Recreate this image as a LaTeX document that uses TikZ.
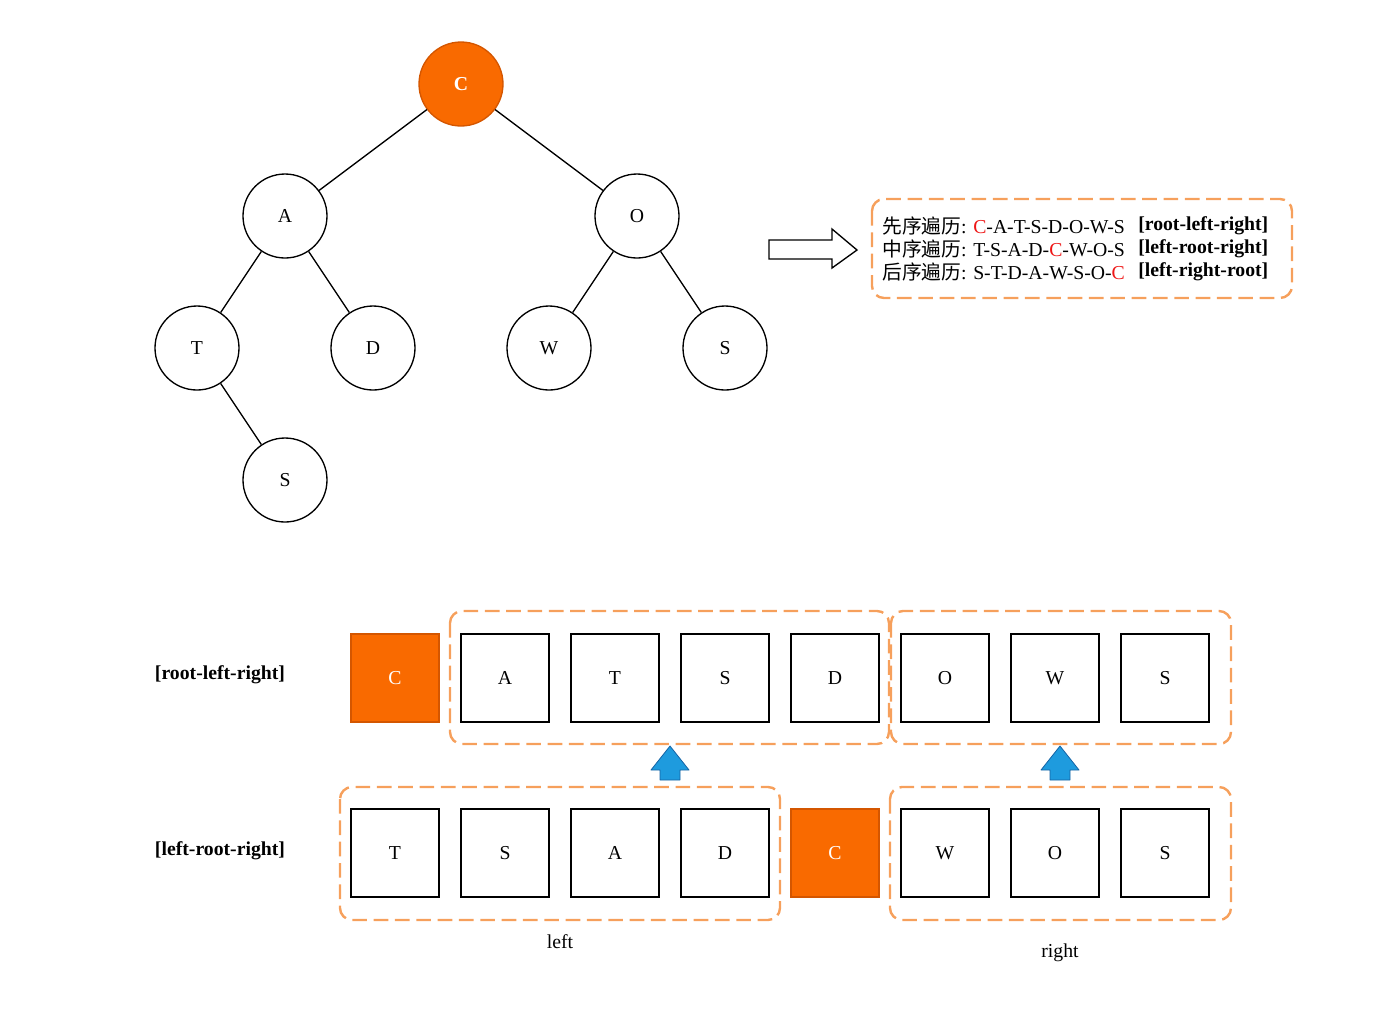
\documentclass[tikz,border=0pt]{standalone}
\usepackage{fontspec}
\setmainfont{Liberation Serif}
\newfontfamily\cjk{Noto Sans CJK SC}
\usetikzlibrary{arrows.meta}

\definecolor{rootorange}{RGB}{249,106,0}
\definecolor{rootedge}{RGB}{212,86,0}
\definecolor{grouporange}{RGB}{246,160,92}
\definecolor{upblue}{RGB}{30,155,222}
\definecolor{upedge}{RGB}{22,100,165}
\definecolor{seqred}{RGB}{238,22,22}
\newcommand{\labelsize}{\fontsize{14.8}{17}\selectfont}

\begin{document}
\begin{tikzpicture}[x=0.75pt,y=0.75pt,yscale=-1,xscale=1,
  treenode/.style={circle,draw,line width=1pt,minimum size=63pt,inner sep=0pt,font=\labelsize},
  rootnode/.style={treenode,fill=rootorange,draw=rootedge,text=white,font=\labelsize\bfseries},
  cellbox/.style={draw,line width=1.1pt,minimum size=66pt,inner sep=0pt,font=\labelsize},
  rootcell/.style={cellbox,fill=rootorange,draw=rootedge,text=white},
  group/.style={draw=grouporange,line width=1.8pt,dash pattern=on 11pt off 5pt,rounded corners=9pt},
  upshape/.style={fill=upblue,draw=upedge,line width=0.6pt,line join=round},
  plain/.style={inner sep=0.75pt,font=\labelsize}]
\useasboundingbox (0,0) rectangle (1400,1008);

% tree
\node[rootnode] (tC) at (461,84) {C};
\node[treenode] (tA) at (285,216) {A};
\node[treenode] (tO) at (637,216) {O};
\node[treenode] (tT) at (197,348) {T};
\node[treenode] (tD) at (373,348) {D};
\node[treenode] (tW) at (549,348) {W};
\node[treenode] (tS) at (725,348) {S};
\node[treenode] (tS2) at (285,480) {S};
\draw[line width=1pt] (tC) -- (tA);
\draw[line width=1pt] (tC) -- (tO);
\draw[line width=1pt] (tA) -- (tT);
\draw[line width=1pt] (tA) -- (tD);
\draw[line width=1pt] (tO) -- (tW);
\draw[line width=1pt] (tO) -- (tS);
\draw[line width=1pt] (tT) -- (tS2);

%Shape: open arrow
\draw[line width=1pt,line join=miter] (769,240) -- (832,240) -- (832,229) -- (857,250) -- (832,268) -- (832,259) -- (769,259) -- cycle;

% traversal box
\draw[group] (872,199) rectangle (1292,298);
\node[plain,anchor=west] (pre) at (881,226) {{\cjk 先序遍历}: \textcolor{seqred}{C}-A-T-S-D-O-W-S};
\node[plain,anchor=west] (mid) at (881,249) {{\cjk 中序遍历}: T-S-A-D-\textcolor{seqred}{C}-W-O-S};
\node[plain,anchor=west] (post) at (881,272) {{\cjk 后序遍历}: S-T-D-A-W-S-O-\textcolor{seqred}{C}};
\node[plain,anchor=west,font=\labelsize\bfseries] (prelbl) at (1137,226) {[root-left-right]};
\node[plain,anchor=west,font=\labelsize\bfseries] (midlbl) at (1137,249) {[left-root-right]};
\node[plain,anchor=west,font=\labelsize\bfseries] (postlbl) at (1137,272) {[left-right-root]};

% row 1: root-left-right
\node[plain,font=\labelsize\bfseries] (rowpre) at (220,675) {[root-left-right]};
\node[rootcell] (pre0) at (395,678) {C};
\foreach \lbl [count=\i] in {A,T,S,D,O,W,S}
  \node[cellbox] (pre\i) at ({395+110*\i},678) {\lbl};
\draw[group] (450,611) rectangle (889,744);
\draw[group] (891,611) rectangle (1231,744);

% row 2: left-root-right
\node[plain,font=\labelsize\bfseries] (rowmid) at (220,851) {[left-root-right]};
\foreach \lbl [count=\i from 0] in {T,S,A,D}
  \node[cellbox] (mid\i) at ({395+110*\i},853) {\lbl};
\node[rootcell] (mid4) at (835,853) {C};
\foreach \lbl [count=\i from 5] in {W,O,S}
  \node[cellbox] (mid\i) at ({395+110*\i},853) {\lbl};
\draw[group] (340,787) rectangle (780,920);
\draw[group] (890,787) rectangle (1231,920);
\node[plain] (leftlbl) at (560,942) {left};
\node[plain] (rightlbl) at (1060,953) {right};

% up arrows
\foreach \x in {670,1060}
  \draw[upshape] (\x,746) -- (\x+19,770) -- (\x+10,770) -- (\x+10,780) -- (\x-10,780) -- (\x-10,770) -- (\x-19,770) -- cycle;
\end{tikzpicture}
\end{document}
